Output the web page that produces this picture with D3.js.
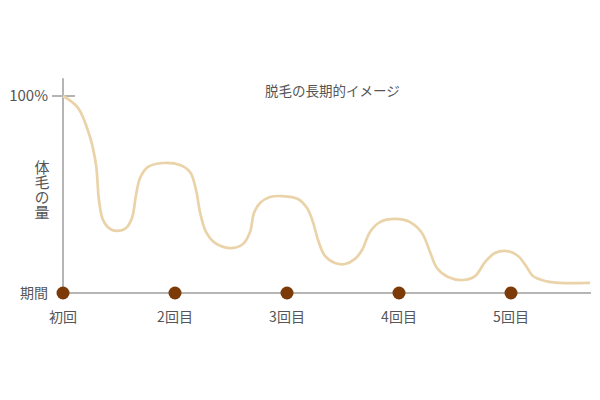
<!DOCTYPE html>
<html>
<head>
<meta charset="utf-8">
<script src="https://cdn.jsdelivr.net/npm/d3@7"></script>
<style>
  body { margin: 0; background: #fff; }
  text { font-family: "Noto Sans CJK JP", sans-serif; fill: #555; }
</style>
</head>
<body>
<div id="chart"></div>
<script>
// hair amount over time, period units (0 = first visit) and percent
const periods = [0, .134, .241, .295, .321, .357, .42, .482, .563, .616, .652, .688, .759, .893,
  1.045, 1.134, 1.188, 1.223, 1.277, 1.357, 1.491, 1.607, 1.67, 1.705, 1.759, 1.848, 1.955,
  2.098, 2.179, 2.232, 2.277, 2.339, 2.429, 2.518, 2.607, 2.67, 2.741, 2.83, 2.964,
  3.098, 3.205, 3.277, 3.339, 3.438, 3.571, 3.679, 3.768, 3.857, 3.964,
  4.063, 4.134, 4.196, 4.304, 4.438, 4.705];
const amount = [100, 94, 79.2, 65, 47.2, 37.1, 32.5, 31.5, 33, 38.1, 49.7, 58.4, 64, 66,
  65, 61.4, 52.3, 41.1, 31, 25.4, 22.8, 24.9, 31, 40.6, 45.7, 48.7, 49.2,
  47.7, 43.1, 36, 26.9, 18.8, 15.2, 14.7, 17.3, 21.8, 31, 36, 37.6,
  36, 30.5, 20.8, 12.7, 8.1, 6.6, 8.6, 15.7, 20.3, 21.3,
  18.8, 13.7, 8.6, 6.1, 5.1, 5.1];
const visits = ["初回", "2回目", "3回目", "4回目", "5回目"];
const title = "脱毛の長期的イメージ";

width = 600;
height = 400;

const svg = d3.select("#chart")
    .append("svg")
        .attr("width", width)
        .attr("height", height)

const x = d3.scaleLinear().domain([0, 1]).range([63, 175])
const y = d3.scaleLinear().domain([0, 100]).range([293, 96])

// axes
svg.append("line")
    .attr("x1", x(0)).attr("x2", x(0))
    .attr("y1", y(109)).attr("y2", y(0))
    .style("stroke", "#b5b5b5").style("stroke-width", 2)
svg.append("line")
    .attr("x1", x(0)).attr("x2", 591)
    .attr("y1", y(0)).attr("y2", y(0))
    .style("stroke", "#b5b5b5").style("stroke-width", 2)
svg.append("line")
    .attr("x1", 52).attr("x2", 75)
    .attr("y1", y(100)).attr("y2", y(100))
    .style("stroke", "#b5b5b5").style("stroke-width", 2)

const data = periods.map((p, i) => ({t: p, v: amount[i]}))

const line = d3.line()
    .x(d => x(d.t))
    .y(d => y(d.v))
    .curve(d3.curveCatmullRom.alpha(0.5))

svg.append("path")
    .datum(data)
    .attr("d", line)
    .style("fill", "none")
    .style("stroke", "#ead3a8")
    .style("stroke-width", 2.7)

svg.selectAll("circle")
    .data(visits)
    .join("circle")
        .attr("cx", (d, i) => x(i))
        .attr("cy", y(0))
        .attr("r", 6.5)
        .style("fill", "#7b3a08")

svg.selectAll("text.visit")
    .data(visits)
    .join("text")
        .attr("class", "visit")
        .attr("x", (d, i) => x(i))
        .attr("y", 322)
        .attr("text-anchor", "middle")
        .style("font-size", "14px")
        .text(d => d)

svg.append("text")
    .attr("x", 48).attr("y", y(100) + 5)
    .attr("text-anchor", "end")
    .style("font-size", "15px")
    .text("100%")

svg.append("text")
    .attr("x", 48).attr("y", y(0) + 5)
    .attr("text-anchor", "end")
    .style("font-size", "14px")
    .text("期間")

svg.append("text")
    .attr("x", 42).attr("y", 160)
    .style("writing-mode", "vertical-rl")
    .style("font-size", "15px")
    .text("体毛の量")

svg.append("text")
    .attr("x", 265).attr("y", 96)
    .style("font-size", "13.5px")
    .text(title)
</script>
</body>
</html>
